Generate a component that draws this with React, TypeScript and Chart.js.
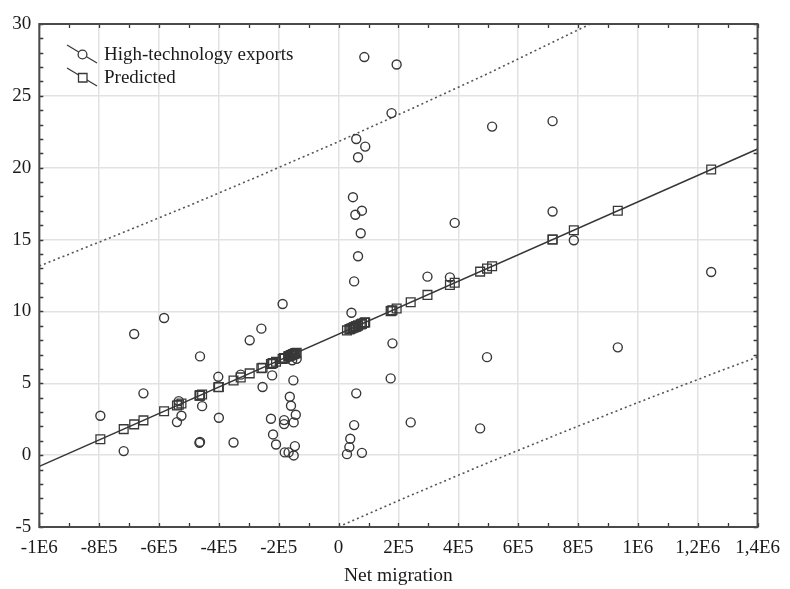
import React, { useEffect, useRef } from "react";
import { Chart, registerables } from "chart.js";

Chart.register(...registerables);

// ---- data ----
const netMigration = [
  -796000, -718000, -683000, -652000, -583000, -540000, -534000, -525000, -465000, -463000,
  -463000, -456000, -402000, -400000, -351000, -327000, -297000, -258000, -254000, -226000,
  -222000, -219000, -209000, -187000, -182000, -182000, -180000, -168000, -167000, -163000,
  -159000, -155000, -151000, -150000, -150000, -146000, -143000, -140000,
  28000, 36000, 39000, 43000, 48000, 52000, 52000, 56000, 59000, 59000,
  65000, 65000, 74000, 78000, 78000, 86000, 89000, 174000, 177000, 180000,
  194000, 241000, 297000, 372000, 388000, 473000, 496000, 513000, 715000, 715000,
  786000, 933000, 1245000,
];

const hiTechExports = [
  2.74, 0.28, 8.43, 4.3, 9.54, 2.3, 3.76, 2.74, 0.86, 0.92,
  6.87, 3.41, 5.45, 2.6, 0.88, 5.6, 7.99, 8.8, 4.74, 2.53,
  5.55, 1.44, 0.74, 10.52, 2.44, 2.16, 0.19, 6.85, 0.19, 4.06,
  3.44, 6.6, 5.2, 2.28, -0.02, 0.63, 2.81, 6.7,
  0.07, 0.56, 1.14, 9.91, 17.95, 2.09, 12.09, 16.73, 4.3, 22.0,
  20.73, 13.84, 15.44, 17.01, 0.16, 27.7, 21.47, 5.34, 23.8, 7.78,
  27.18, 2.28, 12.42, 12.37, 16.16, 1.86, 6.82, 22.86, 23.24, 16.95,
  14.95, 7.5, 12.74,
];

const predicted = [
  1.1, 1.81, 2.14, 2.42, 3.06, 3.45, 3.51, 3.59, 4.14, 4.16,
  4.16, 4.22, 4.72, 4.74, 5.19, 5.41, 5.69, 6.05, 6.08, 6.34,
  6.38, 6.41, 6.5, 6.7, 6.75, 6.75, 6.76, 6.87, 6.88, 6.92,
  6.96, 6.99, 7.03, 7.04, 7.04, 7.08, 7.1, 7.13,
  8.68, 8.75, 8.78, 8.82, 8.86, 8.9, 8.9, 8.94, 8.96, 8.96,
  9.02, 9.02, 9.1, 9.14, 9.14, 9.21, 9.24, 10.02, 10.05, 10.08,
  10.2, 10.64, 11.15, 11.84, 11.99, 12.77, 12.98, 13.14, 15.0, 15.0,
  15.65, 17.0, 19.87,
];

const fitLineX = [-1000000, 1400000];
const fitLineY = [-0.78, 21.3];

const upperBandX = [-1000000, -750000, -500000, -250000, 0, 250000, 500000, 841000];
const upperBandY = [13.16, 15.24, 17.36, 19.56, 21.82, 24.16, 26.56, 30.0];

const lowerBandX = [0, 250000, 500000, 750000, 1000000, 1250000, 1400000];
const lowerBandY = [-4.98, -2.72, -0.52, 1.6, 3.66, 5.66, 6.83];

const xTickValues = [-1000000, -800000, -600000, -400000, -200000, 0, 200000, 400000, 600000, 800000, 1000000, 1200000, 1400000];
const xTickLabels = ["-1E6", "-8E5", "-6E5", "-4E5", "-2E5", "0", "2E5", "4E5", "6E5", "8E5", "1E6", "1,2E6", "1,4E6"];
const yTickValues = [-5, 0, 5, 10, 15, 20, 25, 30];
const yTickLabels = ["-5", "0", "5", "10", "15", "20", "25", "30"];

const seriesLabels = ["High-technology exports", "Predicted"];
const xTitle = "Net migration";

// ---- styling ----
const FONT = "'Liberation Serif', 'Times New Roman', serif";
const INK = "#383838";
const TEXT = "#1a1a1a";

function pts(xs: number[], ys: number[]) {
  return xs.map((x, i) => ({ x, y: ys[i] }));
}

const framePlugin = {
  id: "frame",
  afterDraw(chart: any) {
    const { ctx, chartArea: a, scales } = chart;
    const xs = scales.x;
    const ys = scales.y;
    ctx.save();
    // minor ticks (inside, all four sides)
    ctx.strokeStyle = INK;
    ctx.lineWidth = 1.3;
    const tl = 4;
    ctx.beginPath();
    for (let v = xs.min; v <= xs.max + 1; v += 100000) {
      const px = Math.round(xs.getPixelForValue(v)) + 0.5;
      ctx.moveTo(px, a.top);
      ctx.lineTo(px, a.top + tl);
      ctx.moveTo(px, a.bottom);
      ctx.lineTo(px, a.bottom - tl);
    }
    for (let v = ys.min; v <= ys.max + 0.001; v += 1) {
      const py = Math.round(ys.getPixelForValue(v)) + 0.5;
      ctx.moveTo(a.left, py);
      ctx.lineTo(a.left + tl, py);
      ctx.moveTo(a.right, py);
      ctx.lineTo(a.right - tl, py);
    }
    ctx.stroke();
    // frame
    ctx.lineWidth = 2;
    ctx.strokeStyle = "#4a4a4a";
    ctx.strokeRect(a.left, a.top, a.right - a.left, a.bottom - a.top);

    // legend (inside plot, top-left)
    ctx.font = `19px ${FONT}`;
    ctx.fillStyle = TEXT;
    ctx.textBaseline = "middle";
    ctx.textAlign = "left";
    const rows = [
      { y: 54.5, style: "circle" },
      { y: 77.5, style: "rect" },
    ];
    rows.forEach((r, i) => {
      ctx.strokeStyle = INK;
      ctx.lineWidth = 1.3;
      ctx.beginPath();
      ctx.moveTo(67, r.y - 9.5);
      ctx.lineTo(97, r.y + 8.5);
      ctx.stroke();
      ctx.beginPath();
      if (r.style === "circle") {
        ctx.arc(82.5, r.y, 4.4, 0, Math.PI * 2);
      } else {
        ctx.rect(78.5, r.y - 4, 8.5, 8.5);
      }
      ctx.fillStyle = "#ffffff";
      ctx.fill();
      ctx.stroke();
      ctx.fillStyle = TEXT;
      ctx.fillText(seriesLabels[i], 104, r.y + 1);
    });
    ctx.restore();
  },
};

export default function App() {
  const ref = useRef<HTMLCanvasElement | null>(null);

  useEffect(() => {
    if (!ref.current) return;
    const chart = new Chart(ref.current, {
      type: "scatter",
      data: {
        datasets: [
          {
            label: seriesLabels[0],
            data: pts(netMigration, hiTechExports),
            pointStyle: "circle",
            pointRadius: 4.5,
            pointBorderWidth: 1.4,
            borderColor: INK,
            backgroundColor: "rgba(255,255,255,0)",
            showLine: false,
            clip: 0,
          } as any,
          {
            label: seriesLabels[1],
            data: pts(netMigration, predicted),
            pointStyle: "rect",
            pointRadius: 6.2,
            pointBorderWidth: 1.3,
            borderColor: INK,
            backgroundColor: "rgba(255,255,255,0)",
            showLine: false,
            clip: 0,
          } as any,
          {
            label: "fit",
            data: pts(fitLineX, fitLineY),
            showLine: true,
            pointRadius: 0,
            borderColor: "#363636",
            borderWidth: 1.5,
            clip: 0,
          } as any,
          {
            label: "upper",
            data: pts(upperBandX, upperBandY),
            showLine: true,
            pointRadius: 0,
            borderColor: "#555555",
            borderWidth: 1.6,
            borderDash: [2, 3],
            clip: 0,
          } as any,
          {
            label: "lower",
            data: pts(lowerBandX, lowerBandY),
            showLine: true,
            pointRadius: 0,
            borderColor: "#555555",
            borderWidth: 1.6,
            borderDash: [2, 3],
            clip: 0,
          } as any,
        ],
      },
      options: {
        animation: false,
        responsive: false,
        devicePixelRatio: 1,
        layout: { padding: { top: 24, right: 24.5, left: 0, bottom: 0 } },
        plugins: {
          legend: { display: false },
          tooltip: { enabled: false },
        },
        scales: {
          x: {
            type: "linear",
            position: "bottom",
            min: -1000000,
            max: 1400000,
            afterBuildTicks: (s: any) => {
              s.ticks = xTickValues.map((v) => ({ value: v }));
            },
            afterFit: (s: any) => {
              s.height = 62;
            },
            ticks: {
              autoSkip: false,
              maxRotation: 0,
              padding: 10,
              color: TEXT,
              font: { family: FONT, size: 19 },
              callback: (v: any) => {
                const i = xTickValues.indexOf(Number(v));
                return i >= 0 ? xTickLabels[i] : "";
              },
            },
            grid: { color: "#e2e2e2", lineWidth: 1.5, drawTicks: false },
            border: { display: false },
            title: {
              display: true,
              text: xTitle,
              color: TEXT,
              font: { family: FONT, size: 19.5 },
              padding: { top: 0, bottom: 1 },
            },
          },
          y: {
            type: "linear",
            min: -5,
            max: 30,
            afterBuildTicks: (s: any) => {
              s.ticks = yTickValues.map((v) => ({ value: v }));
            },
            afterFit: (s: any) => {
              s.width = 39.3;
            },
            ticks: {
              autoSkip: false,
              padding: 8,
              color: TEXT,
              font: { family: FONT, size: 19 },
              callback: (v: any) => {
                const i = yTickValues.indexOf(Number(v));
                return i >= 0 ? yTickLabels[i] : "";
              },
            },
            grid: { color: "#e2e2e2", lineWidth: 1.5, drawTicks: false },
            border: { display: false },
          },
        },
      },
      plugins: [framePlugin],
    } as any);
    return () => chart.destroy();
  }, []);

  return (
    <div style={{ position: "fixed", left: 0, top: 0, width: 790, height: 589, background: "#ffffff" }}>
      <canvas ref={ref} width={790} height={589} style={{ display: "block" }} />
    </div>
  );
}
